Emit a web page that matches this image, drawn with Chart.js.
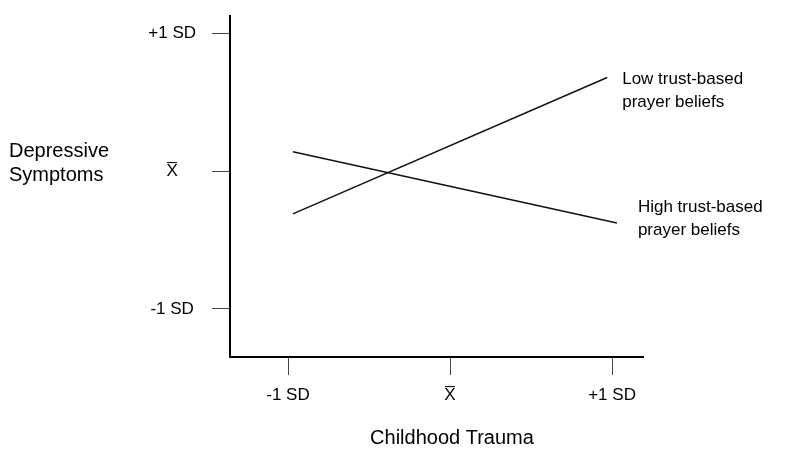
<!DOCTYPE html>
<html>
<head>
<meta charset="utf-8">
<script src="https://cdn.jsdelivr.net/npm/chart.js@4"></script>
<style>
  html, body { margin: 0; padding: 0; background: #fff; }
  #wrap { width: 800px; height: 460px; }
</style>
</head>
<body>
<div id="wrap"><canvas id="chart" width="800" height="460"></canvas></div>
<script>
// values in SD units
const X_TICKS = [-1, 0, 1];
const X_TICK_LABELS = ["-1 SD", "X\u0305", "+1 SD"];
const Y_TICKS = [-1, 0, 1];
const Y_TICK_LABELS = ["-1 SD", "X\u0305", "+1 SD"];

const LOW_X  = [-0.97, 0.97];
const LOW_Y  = [-0.31, 0.68];
const HIGH_X = [-0.97, 1.03];
const HIGH_Y = [0.142, -0.376];

const SERIES_NAMES = [
  ["Low trust-based", "prayer beliefs"],
  ["High trust-based", "prayer beliefs"],
];
const X_TITLE = "Childhood Trauma";
const Y_TITLE = ["Depressive", "Symptoms"];

const FONT = "'Liberation Sans', Arial, sans-serif";

const toPoints = (xs, ys) => xs.map((x, i) => ({ x, y: ys[i] }));

// line end labels + axis titles
const labelsPlugin = {
  id: "labels",
  afterDraw(chart) {
    const ctx = chart.ctx;
    const offsets = [[15, 2], [21, -16]];
    ctx.save();
    ctx.fillStyle = "#000";
    ctx.font = "17px " + FONT;
    ctx.textAlign = "left";
    ctx.textBaseline = "middle";
    chart.data.datasets.forEach((ds, i) => {
      const pts = chart.getDatasetMeta(i).data;
      const last = pts[pts.length - 1];
      SERIES_NAMES[i].forEach((line, j) => {
        ctx.fillText(line, last.x + offsets[i][0], last.y + offsets[i][1] + j * 23);
      });
    });

    ctx.font = "20px " + FONT;
    Y_TITLE.forEach((line, j) => ctx.fillText(line, 9, 151 + j * 24));
    ctx.textAlign = "center";
    ctx.fillText(X_TITLE, 452, 438);
    ctx.restore();
  },
};

new Chart(document.getElementById("chart"), {
  type: "line",
  data: {
    datasets: [
      { label: SERIES_NAMES[0].join(" "), data: toPoints(LOW_X, LOW_Y) },
      { label: SERIES_NAMES[1].join(" "), data: toPoints(HIGH_X, HIGH_Y) },
    ].map((d) => ({
      ...d,
      borderColor: "#111",
      borderWidth: 1.5,
      pointRadius: 0,
      fill: false,
      tension: 0,
    })),
  },
  options: {
    responsive: false,
    animation: false,
    layout: { padding: { left: 0, right: 157, top: 16, bottom: 0 } },
    plugins: { legend: { display: false }, tooltip: { enabled: false } },
    scales: {
      x: {
        type: "linear",
        min: -1.358,
        max: 1.191,
        afterBuildTicks: (s) => { s.ticks = X_TICKS.map((v) => ({ value: v })); },
        afterFit: (s) => { s.height = 103; s.paddingLeft = 0; s.paddingRight = 0; },
        border: { display: true, color: "#000", width: 2 },
        grid: { drawOnChartArea: false, drawTicks: true, tickLength: 18, color: "#444", lineWidth: 1 },
        ticks: {
          padding: 10,
          color: "#000",
          font: { family: FONT, size: 17 },
          maxRotation: 0,
          callback: (v) => X_TICK_LABELS[X_TICKS.indexOf(v)],
        },
      },
      y: {
        type: "linear",
        min: -1.349,
        max: 1.127,
        afterBuildTicks: (s) => { s.ticks = Y_TICKS.map((v) => ({ value: v })); },
        afterFit: (s) => { s.width = 230; s.paddingTop = 0; s.paddingBottom = 0; },
        border: { display: true, color: "#000", width: 2 },
        grid: { drawOnChartArea: false, drawTicks: true, tickLength: 18, color: "#444", lineWidth: 1 },
        ticks: {
          padding: 16,
          crossAlign: "center",
          color: "#000",
          font: { family: FONT, size: 17 },
          callback: (v) => Y_TICK_LABELS[Y_TICKS.indexOf(v)],
        },
      },
    },
  },
  plugins: [labelsPlugin],
});
</script>
</body>
</html>
